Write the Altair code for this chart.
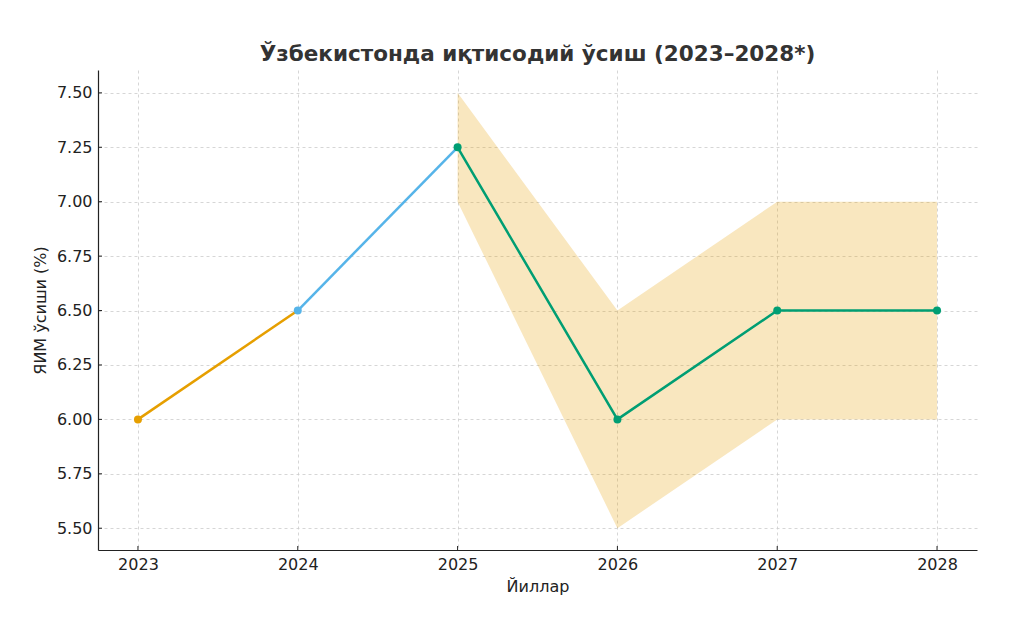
import altair as alt
import pandas as pd

# Data
line_years = [2023, 2024, 2024, 2025, 2025, 2026, 2027, 2028]
line_values = [6.0, 6.5, 6.5, 7.25, 7.25, 6.0, 6.5, 6.5]
line_segment = ["a", "a", "b", "b", "c", "c", "c", "c"]

point_years = [2023, 2024, 2025, 2026, 2027, 2028]
point_values = [6.0, 6.5, 7.25, 6.0, 6.5, 6.5]
point_segment = ["a", "b", "c", "c", "c", "c"]

band_years = [2025, 2026, 2027, 2028]
band_low = [7.0, 5.5, 6.0, 6.0]
band_high = [7.5, 6.5, 7.0, 7.0]

seg_domain = ["a", "b", "c"]
seg_colors = ["#E69F00", "#56B4E9", "#009E73"]

y_ticks = [5.5, 5.75, 6.0, 6.25, 6.5, 6.75, 7.0, 7.25, 7.5]
x_ticks = [2023, 2024, 2025, 2026, 2027, 2028]

lines_df = pd.DataFrame({"year": line_years, "value": line_values, "seg": line_segment})
points_df = pd.DataFrame({"year": point_years, "value": point_values, "seg": point_segment})
band_df = pd.DataFrame({"year": band_years, "low": band_low, "high": band_high})
xt_df = pd.DataFrame({"year": x_ticks})
yt_df = pd.DataFrame({"value": y_ticks})

FONT = "DejaVu Sans"
W, H = 879, 480

x_scale = alt.Scale(domain=[2022.75, 2028.25], nice=False, zero=False)
y_scale = alt.Scale(domain=[5.4, 7.605], nice=False, zero=False)

x_axis = alt.Axis(values=x_ticks, format="d", title="Йиллар", grid=True,
                  gridDash=[3, 3], gridColor="#cccccc", gridWidth=0.8,
                  domainColor="#222222", domainWidth=1.2, tickSize=0,
                  labelPadding=6, labelFontSize=16, labelColor="#222222",
                  titleFontSize=16, titleFontWeight="normal", titleColor="#222222",
                  titlePadding=6, labelFont=FONT, titleFont=FONT)
y_axis = alt.Axis(values=y_ticks, format=".2f", title="ЯИМ ўсиши (%)", grid=True,
                  gridDash=[3, 3], gridColor="#cccccc", gridWidth=0.8,
                  domainColor="#222222", domainWidth=1.2, tickSize=0,
                  labelPadding=6, labelFontSize=16, labelColor="#222222",
                  titleFontSize=16, titleFontWeight="normal", titleColor="#222222",
                  titlePadding=8, labelFont=FONT, titleFont=FONT)

band = alt.Chart(band_df).mark_area(color="#E69F00", opacity=0.25).encode(
    x=alt.X("year:Q", scale=x_scale, axis=x_axis),
    y=alt.Y("low:Q", scale=y_scale, axis=y_axis),
    y2="high:Q",
)

color = alt.Color("seg:N", scale=alt.Scale(domain=seg_domain, range=seg_colors), legend=None)

lines = alt.Chart(lines_df).mark_line(strokeWidth=2.5).encode(
    x=alt.X("year:Q", scale=x_scale),
    y=alt.Y("value:Q", scale=y_scale),
    color=color,
    detail="seg:N",
)

points = alt.Chart(points_df).mark_circle(size=64, opacity=1).encode(
    x=alt.X("year:Q", scale=x_scale),
    y=alt.Y("value:Q", scale=y_scale),
    color=color,
)

# inward tick marks
xticks = alt.Chart(xt_df).mark_rule(color="#222222", strokeWidth=1).encode(
    x=alt.X("year:Q", scale=x_scale),
    y=alt.value(H),
    y2=alt.value(H - 4),
)
yticks = alt.Chart(yt_df).mark_rule(color="#222222", strokeWidth=1).encode(
    y=alt.Y("value:Q", scale=y_scale),
    x=alt.value(0),
    x2=alt.value(4),
)

chart = alt.layer(band, lines, points, xticks, yticks).properties(
    width=W,
    height=H,
    title=alt.TitleParams("Ўзбекистонда иқтисодий ўсиш (2023–2028*)", fontSize=21.5,
                          fontWeight="bold", color="#333333", font=FONT, offset=5),
    autosize=alt.AutoSizeParams(type="none"),
    padding={"left": 90, "top": 62, "right": 39, "bottom": 75},
    view=alt.ViewBackground(stroke="transparent", strokeWidth=0),
).configure_view(strokeWidth=0, stroke="transparent").configure(background="white")

chart.save("out.html", embed_options={"renderer": "svg", "actions": False})
